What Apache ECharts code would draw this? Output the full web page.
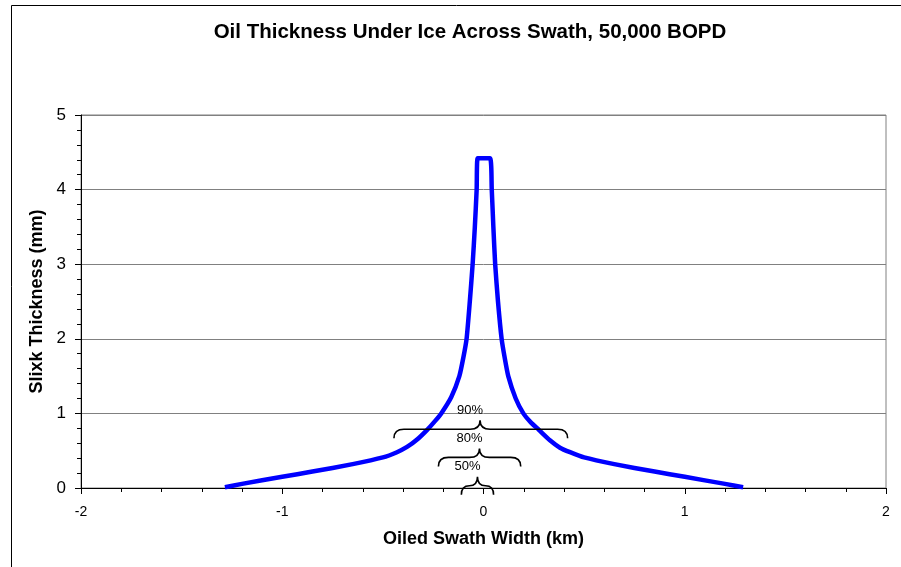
<!DOCTYPE html>
<html>
<head>
<meta charset="utf-8">
<script src="https://cdn.jsdelivr.net/npm/echarts@6/dist/echarts.min.js"></script>
<style>
html,body{margin:0;padding:0;background:#fff;}
#chart{width:901px;height:567px;}
</style>
</head>
<body>
<div id="chart"></div>
<script>
// Curve: swath position (km) and slick thickness (mm)
const swathX = [-1.285, -1.2, -1.0, -0.85, -0.65, -0.5, -0.43, -0.38, -0.33, -0.28, -0.24, -0.21, -0.16, -0.12, -0.1, -0.084, -0.068, -0.054, -0.043, -0.034, -0.029,
                0.032, 0.041, 0.049, 0.058, 0.072, 0.09, 0.105, 0.123, 0.16, 0.198, 0.235, 0.275, 0.33, 0.38, 0.43, 0.5, 0.65, 0.85, 1.0, 1.2, 1.29];
const thickness = [0.01, 0.055, 0.15, 0.22, 0.32, 0.41, 0.48, 0.55, 0.65, 0.78, 0.9, 1.0, 1.22, 1.5, 1.75, 2.0, 2.5, 3.0, 3.5, 4.0, 4.42,
                   4.42, 4.0, 3.5, 3.0, 2.5, 2.0, 1.75, 1.5, 1.2, 1.0, 0.88, 0.78, 0.64, 0.54, 0.48, 0.41, 0.32, 0.22, 0.15, 0.055, 0.01];

// Brace annotations (data units)
const braceLabels = ['90%', '80%', '50%'];
const braceLeft  = [-0.445, -0.224, -0.11];
const braceRight = [0.418, 0.185, 0.05];
const braceTip   = [-0.017, -0.02, -0.03];
const braceLevel = [0.787, 0.41, 0.03];

const titleText = 'Oil Thickness Under Ice Across Swath, 50,000 BOPD';
const xTitle = 'Oiled Swath Width (km)';
const yTitle = 'Slixk Thickness (mm)';

const lineData = swathX.map((x, i) => [x, thickness[i]]);
const braceData = braceLabels.map((l, i) => [braceLeft[i], braceRight[i], braceTip[i], braceLevel[i], l]);

const chart = echarts.init(document.getElementById('chart'), null, {renderer: 'canvas'});
const font = 'Arial, "Liberation Sans", sans-serif';

chart.setOption({
  animation: false,
  backgroundColor: '#fff',
  title: {
    text: titleText,
    left: 465, top: 17, textAlign: 'center',
    textStyle: {fontFamily: font, fontWeight: 'bold', fontSize: 20.5, color: '#000'}
  },
  graphic: [{
    type: 'rect', left: 9, top: 3, z: -1,
    shape: {width: 890, height: 620},
    style: {fill: 'none', stroke: '#000', lineWidth: 1}
  }],
  grid: {
    left: 81, right: 15, top: 115, bottom: 79,
    show: true, borderColor: '#808080', borderWidth: 1, backgroundColor: 'transparent'
  },
  xAxis: {
    type: 'value', min: -2, max: 2, interval: 1,
    name: xTitle, nameLocation: 'middle', nameGap: 42,
    nameTextStyle: {fontFamily: font, fontWeight: 'bold', fontSize: 18, color: '#000'},
    axisLine: {show: true, onZero: false, lineStyle: {color: '#000', width: 1}},
    axisTick: {show: true, length: 6, lineStyle: {color: '#000'}},
    minorTick: {show: true, splitNumber: 5, length: 4, lineStyle: {color: '#000'}},
    axisLabel: {fontFamily: font, fontSize: 14, color: '#000', margin: 17},
    splitLine: {show: false}
  },
  yAxis: {
    type: 'value', min: 0, max: 5, interval: 1,
    name: yTitle, nameLocation: 'middle', nameGap: 34, nameRotate: 90,
    nameTextStyle: {fontFamily: font, fontWeight: 'bold', fontSize: 18, color: '#000'},
    axisLine: {show: true, onZero: false, lineStyle: {color: '#000', width: 1}},
    axisTick: {show: true, length: 6, lineStyle: {color: '#000'}},
    minorTick: {show: true, splitNumber: 5, length: 4, lineStyle: {color: '#000'}},
    axisLabel: {fontFamily: font, fontSize: 17, color: '#000', margin: 15},
    splitLine: {show: true, lineStyle: {color: '#808080', width: 1}}
  },
  series: [
    {
      type: 'line', data: lineData, showSymbol: false, symbol: 'none',
      smooth: 0.2,
      lineStyle: {color: '#0000FF', width: 4.5, join: 'miter'},
      z: 3
    },
    {
      type: 'custom', data: braceData, clip: false, z: 4,
      renderItem: function (params, api) {
        const pL = api.coord([api.value(0), api.value(3)]);
        const pR = api.coord([api.value(1), api.value(3)]);
        const pT = api.coord([api.value(2), api.value(3)]);
        const h = 9;
        const r1 = Math.min(10, (pT[0] - pL[0]) / 2);
        const r2 = Math.min(10, (pR[0] - pT[0]) / 2);
        const y = pT[1];
        const d = 'M' + pL[0] + ' ' + (y + h) +
          ' Q' + pL[0] + ' ' + y + ' ' + (pL[0] + r1) + ' ' + y +
          ' L' + (pT[0] - r1) + ' ' + y +
          ' Q' + pT[0] + ' ' + y + ' ' + pT[0] + ' ' + (y - h) +
          ' Q' + pT[0] + ' ' + y + ' ' + (pT[0] + r2) + ' ' + y +
          ' L' + (pR[0] - r2) + ' ' + y +
          ' Q' + pR[0] + ' ' + y + ' ' + pR[0] + ' ' + (y + h);
        return {
          type: 'group',
          children: [
            {type: 'path', shape: {pathData: d}, style: {fill: 'none', stroke: '#000', lineWidth: 1.6}},
            {type: 'text', style: {
              text: braceLabels[params.dataIndex], x: pT[0] - 10, y: y - 19,
              align: 'center', verticalAlign: 'middle',
              font: '13px Arial, "Liberation Sans", sans-serif', fill: '#000'
            }}
          ]
        };
      }
    }
  ]
});
</script>
</body>
</html>
